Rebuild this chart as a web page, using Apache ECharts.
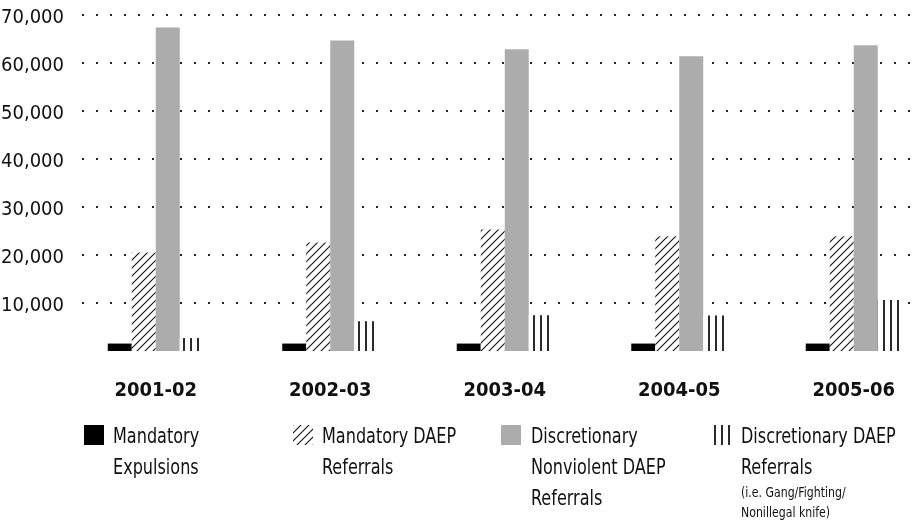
<!DOCTYPE html>
<html>
<head>
<meta charset="utf-8">
<script src="https://cdn.jsdelivr.net/npm/echarts@6/dist/echarts.min.js"></script>
<style>
  html, body { margin: 0; padding: 0; background: #fff; }
  #chart { width: 918px; height: 527px; }
</style>
</head>
<body>
<div id="chart"></div>
<script>
// School years on the category axis
const categories = ['2001-02', '2002-03', '2003-04', '2004-05', '2005-06'];

// Counts per school year
const mandatoryExpulsions = [1550, 1550, 1550, 1550, 1550];
const mandatoryDaepReferrals = [20500, 22600, 25300, 23900, 23900];
const discretionaryNonviolentReferrals = [67400, 64700, 62850, 61400, 63700];
const discretionaryDaepReferrals = [2700, 6200, 7450, 7400, 10600];

// Legend captions, one line per entry
const legendMandatoryExpulsions = ['Mandatory', 'Expulsions'];
const legendMandatoryDaep = ['Mandatory DAEP', 'Referrals'];
const legendDiscretionaryNonviolent = ['Discretionary', 'Nonviolent DAEP', 'Referrals'];
const legendDiscretionaryDaep = ['Discretionary DAEP', 'Referrals'];
const legendDiscretionaryDaepNote = ['(i.e. Gang/Fighting/', 'Nonillegal knife)'];

const FONT = '"DejaVu Sans Condensed", "Liberation Sans", sans-serif';
const INK = '#111';

// Diagonal hatch tile ("/" strokes)
function hatchTile() {
  const c = document.createElement('canvas');
  c.width = 8; c.height = 8;
  const g = c.getContext('2d');
  g.fillStyle = '#fff'; g.fillRect(0, 0, 8, 8);
  g.strokeStyle = '#111'; g.lineWidth = 1.1;
  g.beginPath();
  g.moveTo(-1, 9); g.lineTo(9, -1);
  g.moveTo(-1, 1); g.lineTo(1, -1);
  g.moveTo(7, 9); g.lineTo(9, 7);
  g.stroke();
  return c;
}

// Vertical stripe tile
function stripeTile() {
  const c = document.createElement('canvas');
  c.width = 7; c.height = 4;
  const g = c.getContext('2d');
  g.fillStyle = '#fff'; g.fillRect(0, 0, 7, 4);
  g.fillStyle = '#2a2a2a'; g.fillRect(1, 0, 2, 4);
  return c;
}

const hatchFill = { image: hatchTile(), repeat: 'repeat' };
const stripeFill = { image: stripeTile(), repeat: 'repeat' };

const PLOT_TOP = 15;
const PLOT_BOTTOM = 176;
const LABEL_DROP = 3; // value labels sit a little below their guide line

// One legend entry: swatch, condensed caption, optional small note
function legendEntry(x, textX, fill, lines, note) {
  const children = [
    { type: 'rect', shape: { x: 0, y: 0, width: 20, height: 20 }, style: { fill: fill } },
    {
      type: 'text', x: textX, y: -3, scaleX: 0.85,
      style: { text: lines.join('\n'), font: '21px ' + FONT, lineHeight: 31, fill: INK }
    }
  ];
  if (note) {
    children.push({
      type: 'text', x: textX, y: 58, scaleX: 0.84,
      style: { text: note.join('\n'), font: '14.5px ' + FONT, lineHeight: 20, fill: INK }
    });
  }
  return { type: 'group', x: x, y: 425, children: children };
}

const valueAxisBase = { type: 'value', min: 0, max: 70000, interval: 10000 };

const chart = echarts.init(document.getElementById('chart'), null, { renderer: 'canvas' });

chart.setOption({
  backgroundColor: '#fff',
  animation: false,
  grid: [
    // bar grid: category bands of ~174.5px
    { left: 68.5, width: 872.5, top: PLOT_TOP, bottom: PLOT_BOTTOM, outerBoundsMode: 'none' },
    // dotted guide lines
    { left: 82, right: 0, top: PLOT_TOP, bottom: PLOT_BOTTOM, outerBoundsMode: 'none' },
    // value labels
    { left: 82, right: 0, top: PLOT_TOP + LABEL_DROP, bottom: PLOT_BOTTOM - LABEL_DROP, outerBoundsMode: 'none' }
  ],
  xAxis: [
    {
      type: 'category', gridIndex: 0, data: categories,
      axisLine: { show: false }, axisTick: { show: false },
      axisLabel: { margin: 30, fontFamily: FONT, fontSize: 20, fontWeight: 'bold', color: INK }
    },
    { type: 'category', gridIndex: 1, data: categories, show: false },
    { type: 'category', gridIndex: 2, data: categories, show: false }
  ],
  yAxis: [
    Object.assign({}, valueAxisBase, { gridIndex: 0, show: false, splitLine: { show: false } }),
    Object.assign({}, valueAxisBase, {
      gridIndex: 1,
      axisLine: { show: false }, axisTick: { show: false }, axisLabel: { show: false },
      splitLine: {
        show: true, showMinLine: false,
        lineStyle: { color: '#222', width: 2, type: [2, 12] }
      }
    }),
    Object.assign({}, valueAxisBase, {
      gridIndex: 2,
      axisLine: { show: false }, axisTick: { show: false }, splitLine: { show: false },
      axisLabel: {
        margin: 18, fontFamily: FONT, fontSize: 20, color: INK,
        formatter: v => v === 0 ? '' : v.toLocaleString('en-US')
      }
    })
  ],
  series: [
    {
      name: 'Mandatory Expulsions', type: 'bar', xAxisIndex: 0, yAxisIndex: 0,
      data: mandatoryExpulsions, barWidth: 24, barGap: '0%',
      itemStyle: { color: '#000' }
    },
    {
      name: 'Mandatory DAEP Referrals', type: 'bar', xAxisIndex: 0, yAxisIndex: 0,
      data: mandatoryDaepReferrals, barWidth: 24, barGap: '0%',
      itemStyle: { color: hatchFill }
    },
    {
      name: 'Discretionary Nonviolent DAEP Referrals', type: 'bar', xAxisIndex: 0, yAxisIndex: 0,
      data: discretionaryNonviolentReferrals, barWidth: 24, barGap: '0%',
      itemStyle: { color: '#acacac' }
    },
    {
      name: 'Discretionary DAEP Referrals', type: 'bar', xAxisIndex: 0, yAxisIndex: 0,
      data: discretionaryDaepReferrals, barWidth: 24, barGap: '0%',
      itemStyle: { color: stripeFill }
    }
  ],
  graphic: [
    legendEntry(84, 29, '#000', legendMandatoryExpulsions),
    legendEntry(293, 29, hatchFill, legendMandatoryDaep),
    legendEntry(501, 30, '#acacac', legendDiscretionaryNonviolent),
    legendEntry(713, 28, stripeFill, legendDiscretionaryDaep, legendDiscretionaryDaepNote)
  ]
});
</script>
</body>
</html>
